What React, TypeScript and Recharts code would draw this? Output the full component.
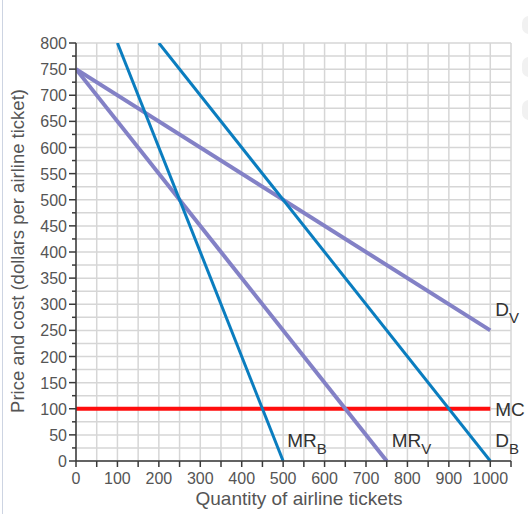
import { LineChart, Line, XAxis, YAxis, CartesianGrid } from "recharts";

// quantity / price endpoints of each straight curve
const dvQ = [0, 1000];
const dvP = [750, 250];
const mrvQ = [0, 750];
const mrvP = [750, 0];
const dbQ = [200, 1000];
const dbP = [800, 0];
const mrbQ = [100, 500];
const mrbP = [800, 0];
const mcQ = [0, 1000];
const mcP = [100, 100];

const xTicks = [0, 50, 100, 150, 200, 250, 300, 350, 400, 450, 500, 550, 600, 650, 700, 750, 800, 850, 900, 950, 1000, 1050];
const xLabels = [0, 100, 200, 300, 400, 500, 600, 700, 800, 900, 1000];
const yTicks = [0, 25, 50, 75, 100, 125, 150, 175, 200, 225, 250, 275, 300, 325, 350, 375, 400, 425, 450, 475, 500, 525, 550, 575, 600, 625, 650, 675, 700, 725, 750, 775, 800];
const yLabels = [0, 50, 100, 150, 200, 250, 300, 350, 400, 450, 500, 550, 600, 650, 700, 750, 800];

const FONT = '"Liberation Sans", Arial, sans-serif';
const BLUE = "#0a7dbf";
const PURPLE = "#8381c6";
const RED = "#ff0d0d";
const AXIS = "#3a3a3a";
const TEXT = "#555";

const toPoints = (q: number[], p: number[]) => q.map((v, i) => ({ q: v, p: p[i] }));

function XTick({ x, y, payload }: any) {
  const v = payload.value;
  return (
    <g>
      <line x1={x} y1={y} x2={x} y2={y + 6} stroke={AXIS} strokeWidth={1.5} />
      {xLabels.includes(v) && (
        <text x={x} y={y + 23} textAnchor="middle" fontSize={16} fill={TEXT} fontFamily={FONT}>
          {v}
        </text>
      )}
    </g>
  );
}

function YTick({ x, y, payload }: any) {
  const v = payload.value;
  const major = yLabels.includes(v);
  return (
    <g>
      <line x1={x - (major ? 7 : 4)} y1={y} x2={x} y2={y} stroke={AXIS} strokeWidth={1.5} />
      {major && (
        <text x={x - 9} y={y + 6} textAnchor="end" fontSize={16} fill={TEXT} fontFamily={FONT}>
          {v}
        </text>
      )}
    </g>
  );
}

const endLabel = (main: string, sub: string, last: number, dx: number, dy: number) => (props: any) => {
  if (props.index !== last) return null;
  return (
    <text x={props.x + dx} y={props.y + dy} fontSize={19} fill="#333" fontFamily={FONT}>
      <tspan>{main}</tspan>
      {sub && (
        <tspan fontSize={15} dy={7}>
          {sub}
        </tspan>
      )}
    </text>
  );
};

export default function App() {
  return (
    <div style={{ position: "absolute", left: 0, top: 0, width: 528, height: 514, background: "#fff", overflow: "hidden" }}>
      <div style={{ position: "absolute", left: 2, top: 0, width: 1, height: 514, background: "#cdd4e2" }} />
      <div style={{ position: "absolute", left: 522, top: 16, width: 14, height: 18, borderRadius: 7, background: "#f1f1f1" }} />
      <div style={{ position: "absolute", left: 522, top: 57, width: 14, height: 20, borderRadius: 7, background: "#f1f1f1" }} />
      <div style={{ position: "absolute", left: 522, top: 100, width: 14, height: 20, borderRadius: 7, background: "#f1f1f1" }} />
      <LineChart width={528} height={514} margin={{ top: 43, right: 17, bottom: 0, left: 0 }}>
        <CartesianGrid stroke="#d6d6d6" strokeWidth={1.5} verticalValues={xTicks} horizontalValues={yTicks} />
        <XAxis
          type="number"
          dataKey="q"
          domain={[0, 1050]}
          ticks={xTicks}
          interval={0}
          height={53}
          tickSize={0}
          tickMargin={0}
          tickLine={false}
          tick={<XTick />}
          axisLine={{ stroke: AXIS, strokeWidth: 1.5 }}
          allowDataOverflow
        />
        <YAxis
          type="number"
          domain={[0, 800]}
          ticks={yTicks}
          interval={0}
          width={76}
          tickSize={0}
          tickMargin={0}
          tickLine={false}
          tick={<YTick />}
          axisLine={{ stroke: AXIS, strokeWidth: 1.5 }}
          allowDataOverflow
        />
        <Line data={toPoints(mcQ, mcP)} dataKey="p" stroke={RED} strokeWidth={4} dot={false} isAnimationActive={false} label={endLabel("MC", "", 1, 5, 7)} />
        <Line data={toPoints(dvQ, dvP)} dataKey="p" stroke={PURPLE} strokeWidth={4} dot={false} isAnimationActive={false} label={endLabel("D", "V", 1, 5, -14)} />
        <Line data={toPoints(mrvQ, mrvP)} dataKey="p" stroke={PURPLE} strokeWidth={4} dot={false} isAnimationActive={false} label={endLabel("MR", "V", 1, 5, -14)} />
        <Line data={toPoints(dbQ, dbP)} dataKey="p" stroke={BLUE} strokeWidth={3} dot={false} isAnimationActive={false} label={endLabel("D", "B", 1, 5, -14)} />
        <Line data={toPoints(mrbQ, mrbP)} dataKey="p" stroke={BLUE} strokeWidth={3} dot={false} isAnimationActive={false} label={endLabel("MR", "B", 1, 4, -14)} />
        <text x={299} y={505} textAnchor="middle" fontSize={19} fill={TEXT} fontFamily={FONT}>
          Quantity of airline tickets
        </text>
        <text x={24} y={251} transform="rotate(-90, 24, 251)" textAnchor="middle" fontSize={18.5} fill={TEXT} fontFamily={FONT}>
          Price and cost (dollars per airline ticket)
        </text>
      </LineChart>
    </div>
  );
}
